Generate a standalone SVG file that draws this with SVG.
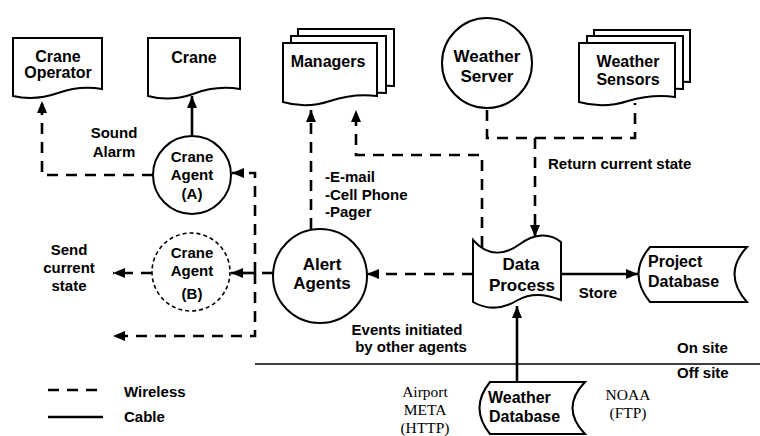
<svg xmlns="http://www.w3.org/2000/svg" width="760" height="436" viewBox="0 0 760 436">
<defs>
<marker id="ah" viewBox="0 0 12 10" refX="12" refY="5" markerWidth="12" markerHeight="10" markerUnits="userSpaceOnUse" orient="auto">
<path d="M0,0 L12,5 L0,10 Z" fill="#000"/>
</marker>
</defs>
<style>
.shape{fill:#fff;stroke:#000;stroke-width:2}
.dcirc{fill:#fff;stroke:#000;stroke-width:1.6;stroke-dasharray:4 3}
.w{fill:none;stroke:#000;stroke-width:2.6;stroke-dasharray:11 8}
.c{fill:none;stroke:#000;stroke-width:2.6}
text{font-family:"Liberation Sans",Arial,Helvetica,sans-serif;font-weight:bold;fill:#000;text-anchor:middle}
.n{font-size:16px}
.b{font-size:17px}
.l{font-size:15px}
.s{font-family:"Liberation Serif","Times New Roman",serif;font-weight:normal;font-size:15.5px}
.st{text-anchor:start}
</style>

<g id="crane-operator">
<path class="shape" d="M13,38 H102 V89 Q80,85 58,93 Q35,101 13,96 Z"/>
<text class="n" x="58" y="62">Crane</text>
<text class="n" x="58" y="78">Operator</text>
</g>

<g id="crane">
<path class="shape" d="M148,38 H240 V89 Q216,85 193,94 Q170,102 148,96 Z"/>
<text class="n" x="194" y="63">Crane</text>
</g>

<g id="managers">
<path class="shape" d="M298,29 H394 V86 Q380,85 370,88 L298,88 Z"/>
<path class="shape" d="M291,36 H386 V93 Q372,92 362,95 L291,95 Z"/>
<path class="shape" d="M283,43 H377 V96 Q354,93 330,101 Q306,109 283,102 Z"/>
<text class="n" x="328" y="67">Managers</text>
</g>

<g id="weather-server">
<circle class="shape" cx="487" cy="63" r="45"/>
<text class="b" x="487" y="62">Weather</text>
<text class="b" x="487" y="82">Server</text>
</g>

<g id="weather-sensors">
<path class="shape" d="M594,30 H690 V82 Q677,81 667,84 L594,84 Z"/>
<path class="shape" d="M587,36 H683 V89 Q670,88 660,91 L587,91 Z"/>
<path class="shape" d="M579,43 H675 V97 Q652,94 628,101 Q603,109 579,102 Z"/>
<text class="n" x="628" y="67">Weather</text>
<text class="n" x="628" y="85">Sensors</text>
</g>

<g id="crane-agent-a">
<circle class="shape" cx="192" cy="175" r="39"/>
<text class="l" x="192" y="162">Crane</text>
<text class="l" x="192" y="180">Agent</text>
<text class="l" x="192" y="199">(A)</text>
</g>

<g id="crane-agent-b">
<circle class="dcirc" cx="191" cy="272" r="39"/>
<text class="l" x="192" y="258">Crane</text>
<text class="l" x="192" y="276">Agent</text>
<text class="l" x="192" y="299">(B)</text>
</g>

<g id="alert-agents">
<circle class="shape" cx="320" cy="276" r="47"/>
<text class="b" x="322" y="270">Alert</text>
<text class="b" x="322" y="289">Agents</text>
</g>

<g id="data-process">
<path class="shape" d="M473,240 C488,257 505,255 520,244 C535,233 550,233 561,242 V300 C546,294 530,293 518,300 C503,309 487,310 473,302 Z"/>
<text class="b" x="521" y="270">Data</text>
<text class="b" x="522" y="291">Process</text>
</g>

<g id="project-database">
<path class="shape" d="M650,247 H747 Q722,274 747,302 H650 Q627,274 650,247 Z"/>
<text class="n st" x="648" y="267">Project</text>
<text class="n st" x="648" y="287">Database</text>
</g>

<g id="weather-database">
<path class="shape" d="M490,382 H585 Q560,408 585,434 H490 Q469,408 490,382 Z"/>
<text class="n st" x="488" y="403">Weather</text>
<text class="n st" x="489" y="422">Database</text>
</g>

<g id="connectors">
<path class="w" d="M153,175 H42 V101" marker-end="url(#ah)"/>
<path class="c" d="M192,136 V96" marker-end="url(#ah)"/>
<path class="w" d="M255,273 V173 H232" marker-end="url(#ah)"/>
<path class="w" d="M255,273 V336 H113" marker-end="url(#ah)"/>
<path class="w" d="M273,273 H257"/>
<path class="c" d="M256,273 H231" marker-end="url(#ah)"/>
<path class="w" d="M152,273 H113" marker-end="url(#ah)"/>
<path class="w" d="M311,229 V110" marker-end="url(#ah)"/>
<path class="w" d="M482,247 V155 H356 V110" marker-end="url(#ah)"/>
<path class="w" d="M487,110 V138 H635 V103"/>
<path class="w" d="M535,138 V237" marker-end="url(#ah)"/>
<path class="w" d="M473,274 H367" marker-end="url(#ah)"/>
<path class="c" d="M561,274 H638" marker-end="url(#ah)"/>
<path class="c" d="M517,382 V306" marker-end="url(#ah)"/>
</g>

<g id="site-boundary">
<line x1="255" y1="364" x2="760" y2="364" stroke="#000" stroke-width="1.6"/>
<text class="l st" x="677" y="353">On site</text>
<text class="l st" x="677" y="378">Off site</text>
</g>

<g id="labels">
<text class="l" x="114" y="138">Sound</text>
<text class="l" x="114" y="157">Alarm</text>
<text class="l" x="69" y="255">Send</text>
<text class="l" x="69" y="273">current</text>
<text class="l" x="69" y="291">state</text>
<text class="l st" x="325" y="182">-E-mail</text>
<text class="l st" x="325" y="200">-Cell Phone</text>
<text class="l st" x="325" y="217">-Pager</text>
<text class="l st" x="548" y="169">Return current state</text>
<text class="l" x="598" y="298">Store</text>
<text class="l" x="407" y="335">Events initiated</text>
<text class="l" x="411" y="352">by other agents</text>
<text class="s" x="425" y="397">Airport</text>
<text class="s" x="425" y="415">META</text>
<text class="s" x="425" y="433">(HTTP)</text>
<text class="s" x="628" y="400">NOAA</text>
<text class="s" x="628" y="418">(FTP)</text>
</g>

<g id="legend">
<line class="w" x1="48" y1="390" x2="103" y2="390"/>
<line class="c" x1="48" y1="417" x2="103" y2="417"/>
<text class="l st" x="124" y="397">Wireless</text>
<text class="l st" x="124" y="422">Cable</text>
</g>
</svg>
